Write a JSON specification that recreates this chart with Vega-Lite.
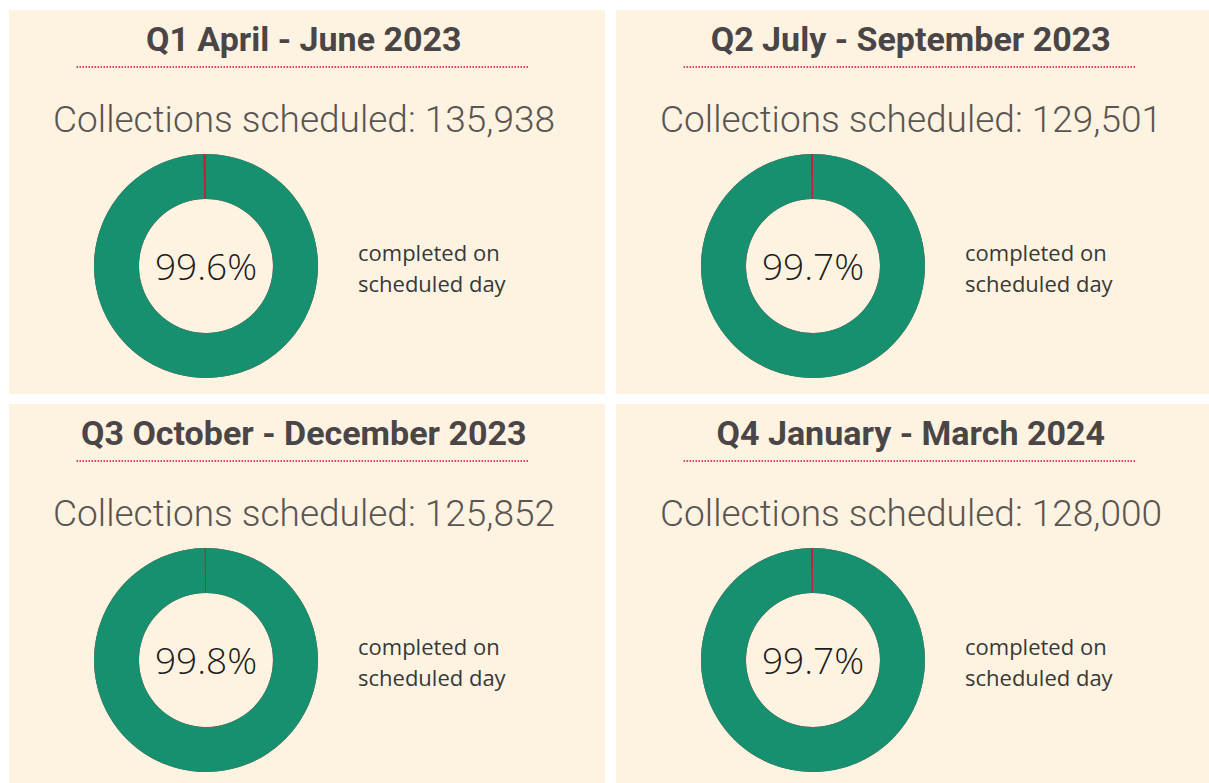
{
  "$schema": "https://vega.github.io/schema/vega-lite/v6.json",
  "width": 1209,
  "height": 783,
  "padding": 0,
  "autosize": {"type": "none"},
  "background": "#ffffff",
  "config": {"view": {"stroke": null}},
  "data": {
    "values": [
      {"quarter": "Q1", "title": "Q1 April - June 2023", "col": "left", "row": "top", "scheduled": 135938, "completed": 0.996},
      {"quarter": "Q2", "title": "Q2 July - September 2023", "col": "right", "row": "top", "scheduled": 129501, "completed": 0.997},
      {"quarter": "Q3", "title": "Q3 October - December 2023", "col": "left", "row": "bottom", "scheduled": 125852, "completed": 0.998},
      {"quarter": "Q4", "title": "Q4 January - March 2024", "col": "right", "row": "bottom", "scheduled": 128000, "completed": 0.997}
    ]
  },
  "transform": [
    {"calculate": "'Collections scheduled: ' + format(datum.scheduled, ',')", "as": "scheduled_label"}
  ],
  "layer": [
    {
      "mark": {"type": "rect", "fill": "#fef3e1"},
      "encoding": {
        "x": {"field": "col", "type": "nominal", "axis": null, "scale": {"type": "band", "domain": ["left", "right"], "range": [9, 1212], "paddingInner": 0.01812, "paddingOuter": 0}},
        "y": {"field": "row", "type": "nominal", "axis": null, "scale": {"type": "band", "domain": ["top", "bottom"], "range": [10, 788], "paddingInner": 0.02538, "paddingOuter": 0}}
      }
    },
    {
      "mark": {"type": "text", "font": "Roboto", "fontWeight": "bold", "fontSize": 34, "color": "#4a4546", "align": "center", "baseline": "middle"},
      "encoding": {
        "x": {"field": "col", "type": "nominal", "bandPosition": 0.4945},
        "y": {"field": "row", "type": "nominal", "bandPosition": 0.0807},
        "text": {"field": "title"}
      }
    },
    {
      "mark": {"type": "rule", "color": "#e6405f", "strokeWidth": 1.8, "strokeDash": [1.5, 1.5]},
      "encoding": {
        "x": {"field": "col", "type": "nominal", "bandPosition": 0.1133},
        "x2": {"field": "col", "bandPosition": 0.8716},
        "y": {"field": "row", "type": "nominal", "bandPosition": 0.1484}
      }
    },
    {
      "mark": {"type": "text", "font": "Roboto", "fontWeight": 300, "fontSize": 37, "color": "#5a5552", "align": "center", "baseline": "middle"},
      "encoding": {
        "x": {"field": "col", "type": "nominal", "bandPosition": 0.495},
        "y": {"field": "row", "type": "nominal", "bandPosition": 0.29},
        "text": {"field": "scheduled_label"}
      }
    },
    {
      "mark": {"type": "arc", "color": "#c8203c", "radius": 112, "radius2": 67, "theta": 0, "theta2": 6.2832},
      "encoding": {
        "x": {"field": "col", "type": "nominal", "bandPosition": 0.3305},
        "y": {"field": "row", "type": "nominal", "bandPosition": 0.6667}
      }
    },
    {
      "mark": {"type": "arc", "color": "#17906f", "radius": 112, "radius2": 67},
      "encoding": {
        "x": {"field": "col", "type": "nominal", "bandPosition": 0.3305},
        "y": {"field": "row", "type": "nominal", "bandPosition": 0.6667},
        "theta": {"field": "completed", "type": "quantitative", "stack": null, "scale": {"domain": [0, 1], "range": [0, 6.2832]}, "legend": null}
      }
    },
    {
      "mark": {"type": "text", "font": "Open Sans", "fontWeight": 300, "fontSize": 37, "color": "#1c1c1c", "align": "center", "baseline": "middle"},
      "encoding": {
        "x": {"field": "col", "type": "nominal", "bandPosition": 0.3305},
        "y": {"field": "row", "type": "nominal", "bandPosition": 0.6745},
        "text": {"field": "completed", "type": "quantitative", "format": ".1%"}
      }
    },
    {
      "mark": {"type": "text", "font": "Open Sans", "fontWeight": 400, "fontSize": 22, "color": "#383838", "align": "left", "baseline": "middle", "lineHeight": 31, "text": ["completed on", "scheduled day"]},
      "encoding": {
        "x": {"field": "col", "type": "nominal", "bandPosition": 0.5856},
        "y": {"field": "row", "type": "nominal", "bandPosition": 0.635}
      }
    }
  ]
}
